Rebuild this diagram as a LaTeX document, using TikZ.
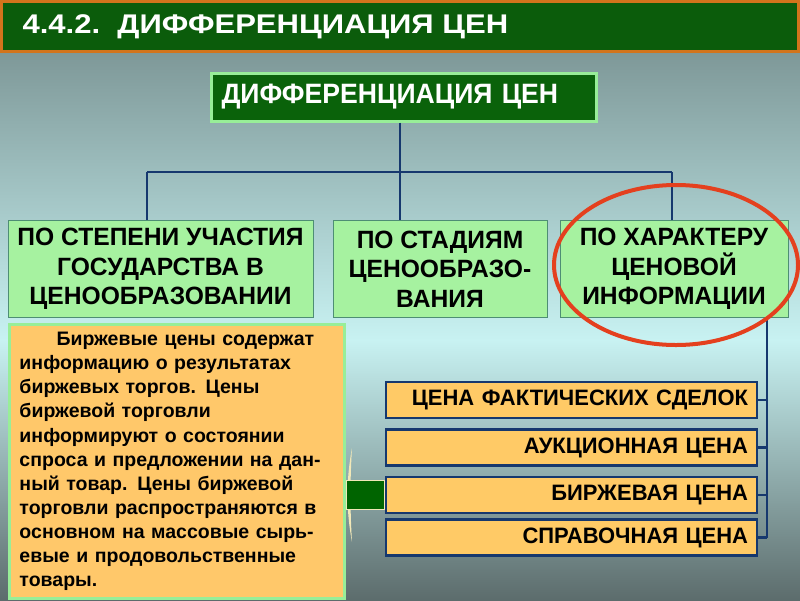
\documentclass[tikz,border=0pt]{standalone}
\usepackage{fontspec}
\setmainfont{Liberation Sans}
\newfontfamily\wideface{Liberation Sans}[FakeStretch=1.15]
\newfontfamily\slimface{Liberation Sans}[FakeStretch=0.95]
\newfontfamily\boxface{Liberation Sans}[FakeStretch=0.985]
\definecolor{titlegreen}{HTML}{0B5C0B}
\definecolor{titleorange}{HTML}{D2741C}
\definecolor{boxgreen}{HTML}{0A620A}
\definecolor{paleborder}{HTML}{98EE98}
\definecolor{lightgreen}{HTML}{A6F2A0}
\definecolor{greenedge}{HTML}{4E8E74}
\definecolor{orangefill}{HTML}{FFCA66}
\definecolor{notefill}{HTML}{FFC86A}
\definecolor{navy}{HTML}{16386E}
\definecolor{ringred}{HTML}{E4401E}
\definecolor{stubgreen}{HTML}{006400}
\definecolor{paleyellow}{HTML}{F2E8B8}
\definecolor{bgtop}{HTML}{7E9898}
\definecolor{bgmid}{HTML}{C8F2F2}
\definecolor{bgbot}{HTML}{5C6C6C}
\tikzset{
  kind/.style={draw=greenedge, line width=1pt, fill=lightgreen, minimum height=97pt,
    align=center, inner sep=0pt, font=\boxface\fontsize{25}{29.5}\selectfont\bfseries},
  pricebox/.style={draw=navy, line width=2.5pt, fill=orangefill, minimum height=36pt,
    text width=353pt, inner xsep=9pt, inner ysep=0pt, align=right,
    font=\boxface\fontsize{22.3}{24}\selectfont\bfseries},
  link/.style={draw=navy, line width=2.5pt},
}
\begin{document}
\begin{tikzpicture}[x=1pt,y=-1pt]
	\useasboundingbox (0,0) rectangle (800,600);
	% background
	\shade[top color=bgtop, bottom color=bgmid] (0,52) rectangle (800,340);
	\shade[top color=bgmid, bottom color=bgbot] (0,340) rectangle (800,600);
	% title bar
	\draw[titleorange, line width=3pt, fill=titlegreen] (1.5,1.5) rectangle (798.5,51);
	\node[anchor=west, text=white, font=\wideface\fontsize{27}{30}\selectfont\bfseries] (title) at (19,27) {4.4.2.\ \ ДИФФЕРЕНЦИАЦИЯ ЦЕН};
	\node[anchor=west, draw=paleborder, line width=3pt, fill=boxgreen, text=white,
		text width=365pt, inner xsep=10pt, inner ysep=0pt, minimum height=48pt, align=left,
		font=\slimface\fontsize{28}{30}\selectfont\bfseries] (main) at (210,97) {ДИФФЕРЕНЦИАЦИЯ ЦЕН};
	\node[kind, minimum width=305pt] (stateshare) at (160.5,269) {ПО СТЕПЕНИ УЧАСТИЯ\\ГОСУДАРСТВА В\\ЦЕНООБРАЗОВАНИИ};
	\node[kind, minimum width=214pt] (stages) at (440,269) {ПО СТАДИЯМ\\ЦЕНООБРАЗО-\\ВАНИЯ};
	\node[kind, minimum width=228pt] (infotype) at (674,269) {ПО ХАРАКТЕРУ\\ЦЕНОВОЙ\\ИНФОРМАЦИИ};
	\coordinate (fork) at (400,172);
	\coordinate (leftend) at (147,172);
	\coordinate (rightend) at (672,172);
	\draw[link] (main.south -| fork) -- (fork);
	\draw[link] (leftend) -- (rightend);
	\draw[link] (leftend) -- (leftend |- stateshare.north);
	\draw[link] (fork) -- (fork |- stages.north);
	\draw[link] (rightend) -- (rightend |- infotype.north);
	% kinds of price information
	\node[pricebox] (actual) at (571.5,400) {ЦЕНА ФАКТИЧЕСКИХ СДЕЛОК};
	\node[pricebox] (auction) at (571.5,447.5) {АУКЦИОННАЯ ЦЕНА};
	\node[pricebox] (exchange) at (571.5,495) {БИРЖЕВАЯ ЦЕНА};
	\node[pricebox] (reference) at (571.5,537.5) {СПРАВОЧНАЯ ЦЕНА};
	\coordinate (trunk) at (767,0);
	\draw[link] (infotype.south -| trunk) -- (trunk |- reference.east);
	\foreach \b in {actual,auction,exchange,reference}
		\draw[link] (\b.east) -- (\b.east -| trunk);
	% note on exchange prices
	\node[anchor=north west, draw=paleborder, line width=3pt, fill=notefill, text width=315pt,
		inner xsep=10pt, inner ysep=0pt, minimum height=274pt, align=left,
		font=\fontsize{19.5}{24.1}\selectfont\bfseries] (note) at (8,323) {\hspace*{37pt}Биржевые цены содержат\\
		информацию о результатах\\
		биржевых торгов. Цены\\
		биржевой торговли\\
		информируют о состоянии\\
		спроса и предложении на дан-\\
		ный товар. Цены биржевой\\
		торговли распространяются в\\
		основном на массовые сырь-\\
		евые и продовольственные\\
		товары.};
	\fill[paleyellow] (352,448) .. controls (346,480) and (346,510) .. (352,542) .. controls (350,510) and (350,480) .. (352,448);
	\node[anchor=east, draw=paleyellow, line width=0.8pt, fill=stubgreen, minimum width=38pt,
		minimum height=29pt, inner sep=0pt] (stub) at (exchange.west) {};
	\draw[ringred, line width=4pt] (676,265) ellipse [x radius=122, y radius=80];
\end{tikzpicture}
\end{document}
